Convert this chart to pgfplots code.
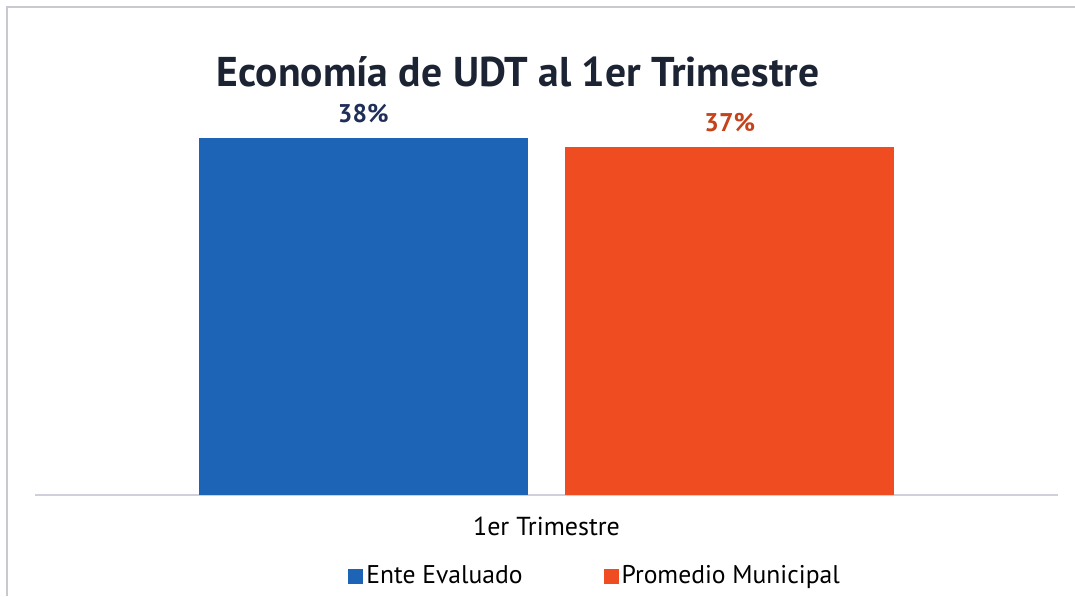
\documentclass[border=0pt]{standalone}
\usepackage{fontspec}
\setmainfont{PT Sans}
\usepackage{pgfplots}
\pgfplotsset{compat=1.18}
\definecolor{barblue}{RGB}{30,100,182}
\definecolor{barorange}{RGB}{240,76,34}
\definecolor{titlecol}{RGB}{28,36,52}
\definecolor{lblblue}{RGB}{32,46,90}
\definecolor{lblorange}{RGB}{196,67,27}
\definecolor{framegray}{RGB}{200,200,208}
\definecolor{axisgray}{RGB}{208,208,220}
\begin{document}
\begin{tikzpicture}[x=0.5pt,y=-0.5pt]
\path[use as bounding box] (0,0) rectangle (1075,596);
\draw[framegray, line width=0.6pt] (7,596) -- (7,7) -- (1075,7);
\node[anchor=base, text=titlecol, inner sep=0pt, font=\fontsize{20.8}{24}\selectfont\bfseries] at (518,86) {Economía de UDT al 1er Trimestre};
\begin{axis}[
  at={(17.5pt,-247.5pt)}, anchor=south west,
  scale only axis, width=511.5pt, height=187.9pt,
  xmin=-1, xmax=1, ymin=0, ymax=40, enlargelimits=false,
  ybar=18.75pt, bar width=164.5pt,
  axis x line*=bottom, axis y line=none,
  x axis line style={draw=axisgray, line width=0.8pt, -},
  xtick={0}, xticklabels={1er Trimestre}, major tick length=0pt,
  xticklabel style={font=\fontsize{13}{15}\selectfont, text=black, anchor=base, yshift=-20pt},
  ytick=\empty,
  point meta=explicit symbolic,
  nodes near coords,
  every node near coord/.append style={font=\fontsize{12.8}{14}\selectfont\bfseries, anchor=base, yshift=8pt},
  clip=false,
  legend columns=2,
  legend style={draw=none, fill=none, at={(0.548,0)}, anchor=center, yshift=-40.5pt,
    font=\fontsize{12.8}{14}\selectfont,
    nodes={inner sep=1.5pt},
    /tikz/every even column/.append style={column sep=39pt}},
  legend image code/.code={\fill[#1] (0pt,-3.75pt) rectangle (7.5pt,3.75pt);},
]
\addplot[fill=barblue, draw=none, every node near coord/.append style={text=lblblue}]
  coordinates {(0,38) [38\%]};
\addplot[fill=barorange, draw=none, every node near coord/.append style={text=lblorange}]
  coordinates {(0,37) [37\%]};
\legend{Ente Evaluado, Promedio Municipal}
\end{axis}
\end{tikzpicture}
\end{document}
